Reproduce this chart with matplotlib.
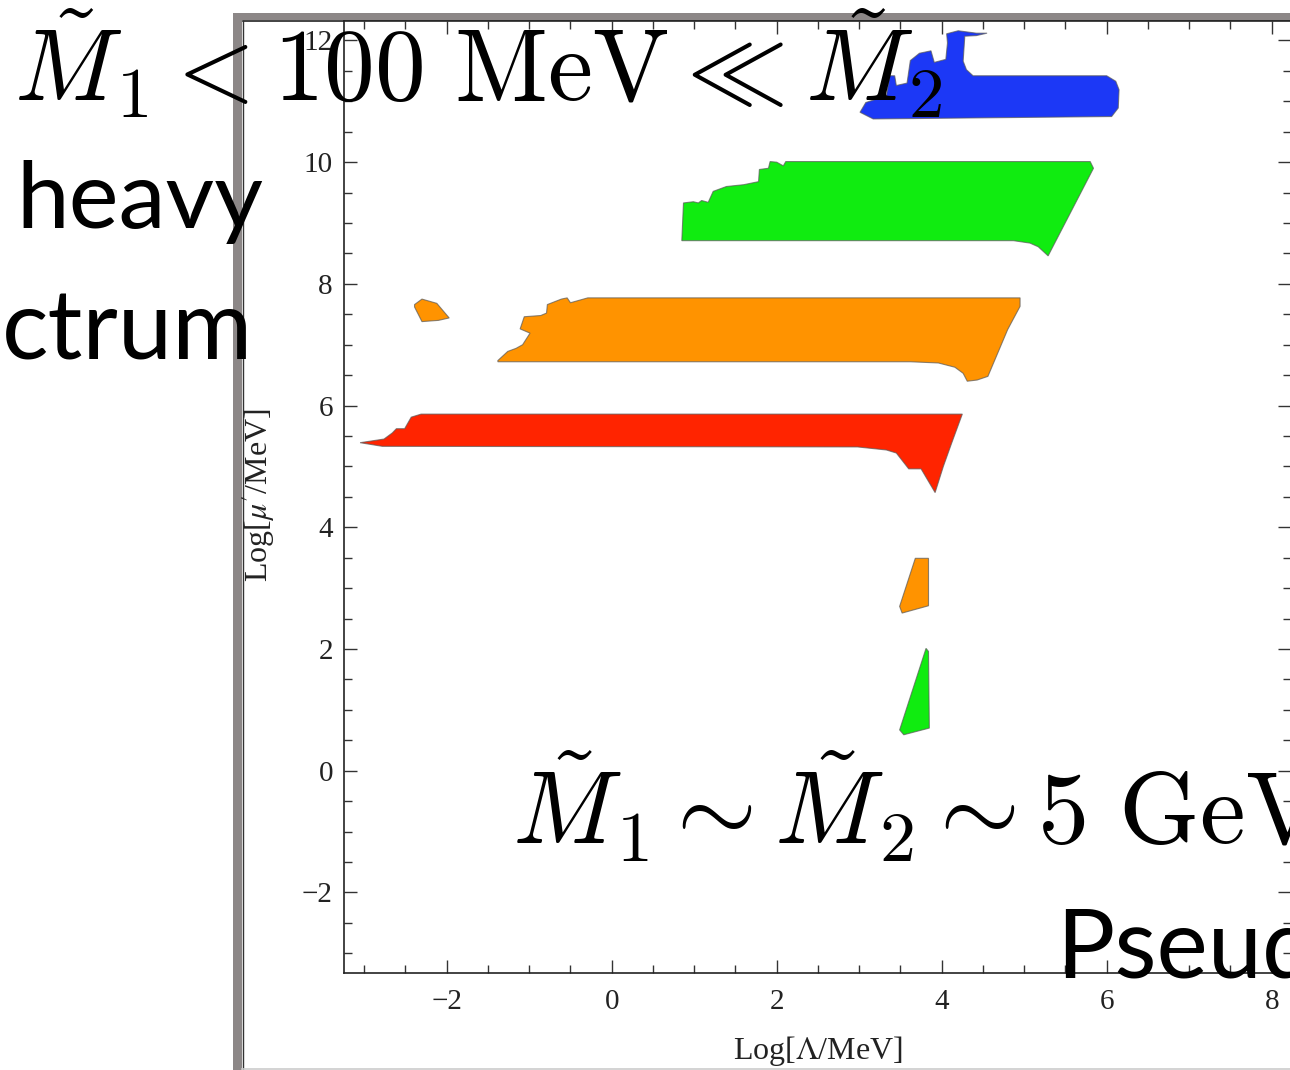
import numpy as np
import matplotlib
matplotlib.use("Agg")
import matplotlib.pyplot as plt
from matplotlib.patches import Rectangle
from matplotlib.ticker import MultipleLocator

# region outlines: (Log[Lambda/MeV], Log[mu'/MeV])
red_x = [-3.05, -2.76, -2.66, -2.61, -2.51, -2.43, -2.31, 4.25, 4.12, 4.02, 3.92,
         3.75, 3.60, 3.45, 3.33, 2.98, -2.78]
red_y = [5.39, 5.45, 5.55, 5.62, 5.62, 5.81, 5.86, 5.86, 5.38, 5.00, 4.57,
         4.96, 4.96, 5.22, 5.27, 5.32, 5.33]

orange_x = [-1.38, -1.26, -1.16, -1.08, -0.99, -1.11, -1.06, -0.86, -0.79, -0.78,
            -0.61, -0.54, -0.50, -0.29, 4.95, 4.95, 4.80, 4.56, 4.43, 4.31, 4.26,
            4.16, 3.96, 3.62, -1.38]
orange_y = [6.74, 6.89, 6.94, 7.00, 7.19, 7.26, 7.46, 7.48, 7.52, 7.66,
            7.75, 7.77, 7.69, 7.77, 7.77, 7.63, 7.25, 6.48, 6.42, 6.40, 6.53,
            6.63, 6.70, 6.72, 6.72]
orange_blob_x = [-2.39, -2.30, -2.12, -1.97, -2.10, -2.30, -2.39]
orange_blob_y = [7.66, 7.75, 7.68, 7.44, 7.40, 7.38, 7.62]
orange_low_x = [3.68, 3.84, 3.84, 3.52, 3.49]
orange_low_y = [3.49, 3.49, 2.71, 2.59, 2.70]

green_x = [0.85, 0.87, 0.99, 1.05, 1.09, 1.17, 1.23, 1.29, 1.39, 1.60, 1.78, 1.79,
           1.90, 1.92, 2.00, 2.08, 2.11, 5.80, 5.84, 5.29, 5.17, 5.07, 4.87, 0.85]
green_y = [8.72, 9.33, 9.35, 9.33, 9.37, 9.34, 9.52, 9.55, 9.60, 9.63, 9.68, 9.88,
           9.90, 10.01, 10.00, 9.94, 10.01, 10.01, 9.90, 8.46, 8.61, 8.67, 8.71, 8.71]
green_low_x = [3.81, 3.84, 3.85, 3.54, 3.49]
green_low_y = [2.01, 1.96, 0.70, 0.59, 0.67]

blue_x = [3.01, 3.08, 3.33, 3.37, 3.43, 3.45, 3.58, 3.62, 3.73, 3.87, 3.91, 4.05,
          4.07, 4.06, 4.20, 4.42, 4.55, 4.42, 4.28, 4.26, 4.30, 4.38, 6.00, 6.11,
          6.15, 6.14, 6.06, 3.17]
blue_y = [10.82, 10.98, 11.09, 11.42, 11.42, 11.26, 11.30, 11.67, 11.79, 11.83, 11.64, 11.69,
          11.96, 12.11, 12.16, 12.12, 12.12, 12.08, 12.07, 11.66, 11.52, 11.42, 11.42, 11.33,
          11.19, 10.89, 10.75, 10.71]

regions = [
    (red_x, red_y, "#ff2400"),
    (orange_x, orange_y, "#ff9300"),
    (orange_blob_x, orange_blob_y, "#ff9300"),
    (orange_low_x, orange_low_y, "#ff9300"),
    (green_x, green_y, "#10ec10"),
    (green_low_x, green_low_y, "#10ec10"),
    (blue_x, blue_y, "#1c38f6"),
]

W, H = 1290, 1070
fig = plt.figure(figsize=(W / 100, H / 100), dpi=100)
fig.patch.set_facecolor("white")

# slide frame around the pasted plot
fig.patches.append(Rectangle((233 / W, 0), 9 / W, 1 - 13 / H, transform=fig.transFigure,
                             facecolor="#8c8787", edgecolor="none", zorder=-5))
fig.patches.append(Rectangle((233 / W, 1 - 20 / H), 1, 7 / H, transform=fig.transFigure,
                             facecolor="#8c8787", edgecolor="none", zorder=-5))
fig.add_artist(plt.Line2D([242.5 / W, 1], [1 - 20.5 / H] * 2, transform=fig.transFigure,
                          color="#222222", lw=1.2, zorder=-4))
fig.add_artist(plt.Line2D([242.5 / W] * 2, [0, 1 - 20.5 / H], transform=fig.transFigure,
                          color="#333333", lw=1.0, zorder=-4))
fig.add_artist(plt.Line2D([242 / W, 1], [1 - 1068.5 / H] * 2, transform=fig.transFigure,
                          color="#cccccc", lw=1.2, zorder=-4))

ax = fig.add_axes([344 / W, 1 - 972.7 / H, 947 / W, 951.7 / H])
for xs, ys, col in regions:
    ax.fill(xs, ys, facecolor=col, edgecolor=(0.35, 0.35, 0.35, 0.7), lw=0.8)

ax.set_xlim(-3.245, 8.234)
ax.set_ylim(-3.32, 12.32)
ax.xaxis.set_major_locator(MultipleLocator(2))
ax.xaxis.set_minor_locator(MultipleLocator(0.5))
ax.yaxis.set_major_locator(MultipleLocator(2))
ax.yaxis.set_minor_locator(MultipleLocator(0.5))
ax.tick_params(which="both", direction="in", top=True, right=True, color="#333333", width=1.0)
ax.tick_params(which="major", length=9.5)
ax.tick_params(which="minor", length=5.5)
ax.tick_params(axis="x", which="major", pad=12)
ax.tick_params(axis="y", which="major", pad=8)
for lab in ax.get_xticklabels() + ax.get_yticklabels():
    lab.set_fontfamily("Liberation Serif")
    lab.set_fontsize(21)
    lab.set_color("#222222")
for sp in ax.spines.values():
    sp.set_color("#222222")
    sp.set_linewidth(1.2)

ax.set_xlabel(r"Log[$\Lambda$/MeV]", fontfamily="Liberation Serif", fontsize=23,
              color="#222222", math_fontfamily="stix")
ax.set_ylabel(r"Log[$\mu'$/MeV]", fontfamily="Liberation Serif", fontsize=23,
              color="#222222", math_fontfamily="stix")
ax.xaxis.set_label_coords(0.5, -0.064)
ax.yaxis.set_label_coords(-0.071, 0.502)

# slide text laid over the plot
def px(x, y):
    return x / W, 1 - y / H

fig.text(*px(14, 101), r"$\tilde{M}_1 < 100\ \mathrm{MeV} \ll \tilde{M}_2$",
         fontsize=73, math_fontfamily="cm", va="baseline", ha="left")
fig.text(*px(512, 845), r"$\tilde{M}_1 \sim \tilde{M}_2 \sim 5\ \mathrm{GeV}$",
         fontsize=74, math_fontfamily="cm", va="baseline", ha="left")
sans = ["Lato", "DejaVu Sans"]
fig.text(*px(16, 228), "heavy", fontsize=68, family=sans, va="baseline", ha="left")
fig.text(*px(2, 360), "ctrum", fontsize=70, family=sans, va="baseline", ha="left")
fig.text(*px(1056, 978), "Pseudo", fontsize=70, family=sans, va="baseline", ha="left")

fig.savefig("out.png", dpi=100)
